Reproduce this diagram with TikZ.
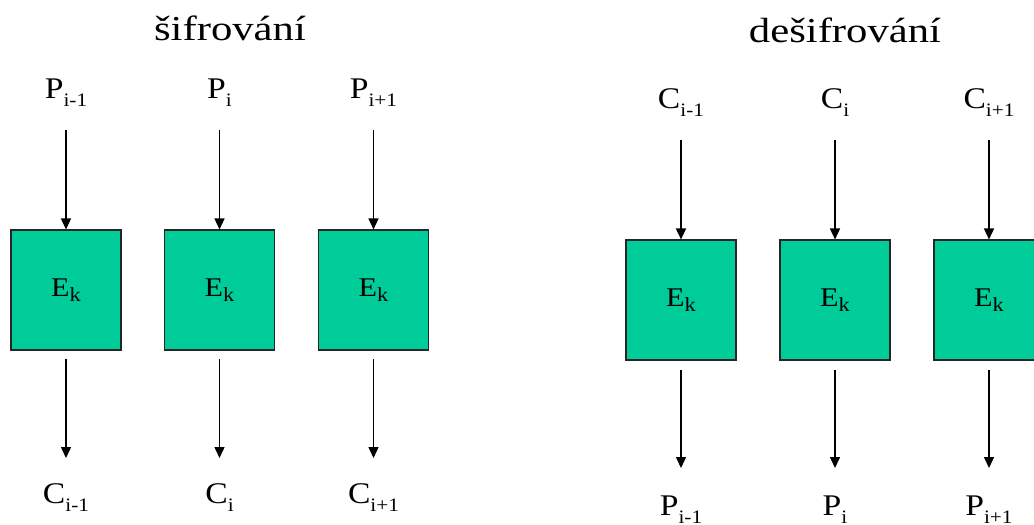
\documentclass[tikz,border=0pt]{standalone}
\usepackage{fontspec}
\setmainfont{Liberation Serif}
\usetikzlibrary{arrows.meta}
\definecolor{boxgreen}{RGB}{0,204,153}
\newcommand{\ttltext}[1]{\scalebox{1.22}[1]{\fontsize{35}{35}\selectfont #1}}
\newcommand{\lbltext}[2]{\scalebox{1.12}[1]{\fontsize{30}{30}\selectfont #1\raisebox{-8pt}{\fontsize{19}{19}\selectfont #2}}}
\newcommand{\ektext}{\scalebox{1.12}[1]{\fontsize{27}{27}\selectfont E\raisebox{-5pt}{\fontsize{20}{20}\selectfont k}}}
\begin{document}
\begin{tikzpicture}[x=1pt,y=-1pt,
  ebox/.style={draw=black!85, line width=1.1pt, fill=boxgreen, minimum width=110pt, minimum height=120pt, inner sep=0pt},
  lbl/.style={anchor=base, inner sep=0pt},
  arr/.style={line width=1.5pt, -{Triangle[width=10pt,length=11pt]}}]
\useasboundingbox (0,0) rectangle (1034,525);
\fill[white] (0,0) rectangle (1034,525);
% titles
\node[lbl] (t1) at (230,40) {\ttltext{šifrování}};
\node[lbl] (t2) at (845,42) {\ttltext{dešifrování}};
% left panel: encryption
\foreach \n/\x/\s in {1/66/i-1, 2/219.5/i, 3/373.5/i+1}{
  \node[lbl] (lp\n) at (\x,98) {\lbltext{P}{\s}};
  \node[ebox] (le\n) at (\x,290) {\ektext};
  \node[lbl] (lc\n) at (\x,503) {\lbltext{C}{\s}};
  \coordinate (lin\n) at (\x,130);
  \coordinate (lout\n) at (\x,359);
  \coordinate (lend\n) at (\x,458);
  \draw[arr] (lin\n) -- (le\n.north);
  \draw[arr] (lout\n) -- (lend\n);
}
% right panel: decryption
\foreach \n/\x/\s in {1/681/i-1, 2/835/i, 3/989/i+1}{
  \node[lbl] (rc\n) at (\x,108) {\lbltext{C}{\s}};
  \node[ebox] (re\n) at (\x,300) {\ektext};
  \node[lbl] (rp\n) at (\x,515) {\lbltext{P}{\s}};
  \coordinate (rin\n) at (\x,140);
  \coordinate (rout\n) at (\x,370);
  \coordinate (rend\n) at (\x,468);
  \draw[arr] (rin\n) -- (re\n.north);
  \draw[arr] (rout\n) -- (rend\n);
}
\end{tikzpicture}
\end{document}
